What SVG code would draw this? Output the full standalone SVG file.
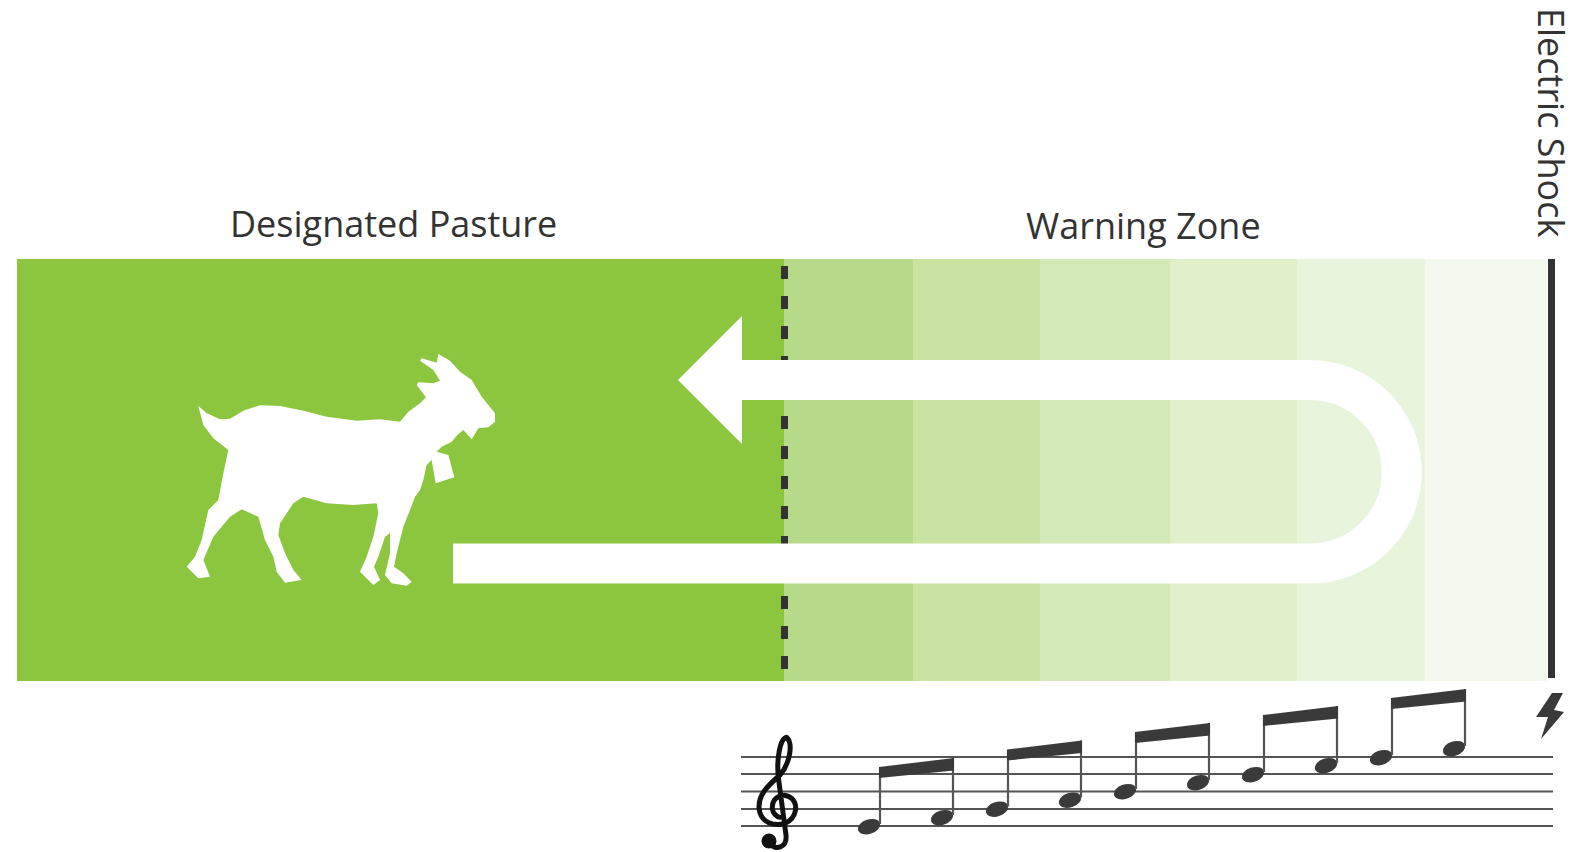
<svg xmlns="http://www.w3.org/2000/svg" width="1585" height="852" viewBox="0 0 1585 852">
<style>
.lbl{font-family:"Open Sans","Noto Sans",sans-serif;font-size:36px;fill:#333}
.staff{stroke:#555;stroke-width:1.8}
.stem{stroke:#555;stroke-width:2.2;fill:none}
.ink{fill:#3a3a3a}
</style>
<defs>
<g id="notes">
<ellipse cx="869" cy="826.7" rx="11.5" ry="7.2" transform="rotate(-18 869 826.7)" class="ink"/>
<ellipse cx="942" cy="817.7" rx="11.5" ry="7.2" transform="rotate(-18 942 817.7)" class="ink"/>
<path class="stem" d="M880 768V824M953 758V815"/>
<path class="ink" d="M879 767L954 758V770.500L879 778Z"/>
</g>
</defs>
<rect width="1585" height="852" fill="#fff"/>
<g id="pasture"><rect x="17" y="259" width="767" height="422" fill="#8cc63f"/></g>
<g id="warning-zone">
<rect x="784" y="259" width="129" height="422" fill="#b7d98a"/>
<rect x="913" y="259" width="127" height="422" fill="#c8e3a2"/>
<rect x="1040" y="259" width="130" height="422" fill="#d3e9b8"/>
<rect x="1170" y="259" width="127" height="422" fill="#e0f0cb"/>
<rect x="1297" y="259" width="128" height="422" fill="#e9f4dc"/>
<rect x="1425" y="259" width="122" height="422" fill="#f3f8ec"/>
</g>
<g id="boundary"><path d="M784.500 259V681" fill="none" stroke="#333" stroke-width="7" stroke-dasharray="13 17" stroke-dashoffset="23"/></g>
<g id="shock-line"><rect x="1548" y="259" width="7" height="419" fill="#333"/></g>
<g id="connectors">
<path d="M453 563.500H1310A91.500 91.500 0 0 0 1310 380H730" fill="none" stroke="#fff" stroke-width="40"/>
<polygon points="678,380 742,316 742,444" fill="#fff"/>
</g>
<g id="goat"><path transform="translate(170 340) scale(.33333)" fill="#fff" d="M85 198L110 220L150 238L180 236L220 212L270 196L330 198L400 212L470 230L560 242L630 238L690 245L715 215L750 190L768 172L740 135L745 127L790 130L810 122L790 90L750 62L755 55L800 68L805 42L840 62L870 95L905 120L935 170L975 220L975 245L955 262L925 265L905 298L880 270L862 285L845 305L815 320L800 335L835 345L853 412L797 430L785 360L770 375L760 420L750 450L735 470L720 510L700 560L680 640L672 680L700 700L725 725L710 737L665 730L645 705L660 640L660 580L645 590L625 650L612 680L630 720L610 735L585 710L570 695L590 650L610 590L625 520L620 490L550 495L470 490L400 470L370 490L330 550L325 585L345 640L370 690L395 720L345 728L320 695L310 650L285 600L265 530L215 508L180 530L130 590L100 660L120 710L85 715L50 680L75 650L95 600L115 510L145 480L160 400L175 330L130 295L100 255Z"/></g>
<g id="label-pasture"><text class="lbl" x="230" y="237">Designated Pasture</text></g>
<g id="label-warning"><text class="lbl" x="1026" y="239">Warning Zone</text></g>
<g id="label-shock"><text class="lbl" transform="translate(1538 8) rotate(90)">Electric Shock</text></g>
<g id="staff">
<path class="staff" d="M741 757H1553M741 774H1553M741 791.500H1553M741 809H1553M741 826H1553"/>
</g>
<g id="clef">
<path transform="translate(730 680) scale(.33333)" fill="none" stroke="#111" stroke-width="15" stroke-linecap="round" stroke-linejoin="round" d="M118 490C135 512 172 505 168 465L146 300C138 240 150 175 170 172C190 190 180 250 150 285C110 320 85 345 87 385C92 430 135 440 165 430C200 415 205 375 185 355C160 335 125 350 127 385C128 400 140 410 150 412"/>
<circle cx="769" cy="841" r="7.500" fill="#111"/>
</g>
<g id="music-notes">
<use href="#notes"/>
<use href="#notes" transform="translate(128 -17.500)"/>
<use href="#notes" transform="translate(256 -35)"/>
<use href="#notes" transform="translate(384 -52)"/>
<use href="#notes" transform="translate(512 -69)"/>
</g>
<g id="bolt"><polygon class="ink" points="1552,693 1563,693 1554,710 1564,712 1541,739 1548,717 1536,717"/></g>
</svg>
